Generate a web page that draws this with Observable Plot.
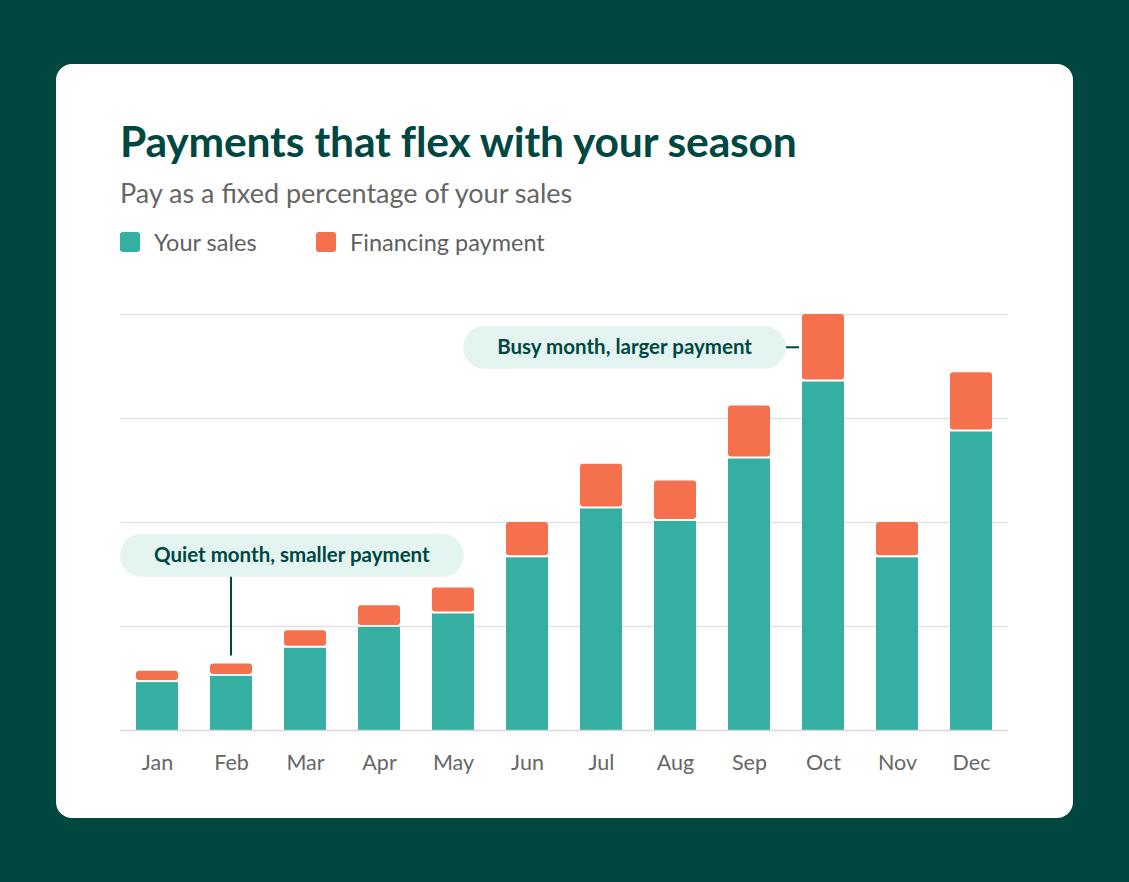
<!DOCTYPE html>
<html>
<head>
<meta charset="utf-8">
<script src="https://cdn.jsdelivr.net/npm/d3@7"></script>
<script src="https://cdn.jsdelivr.net/npm/@observablehq/plot@0.6"></script>
<style>
  html, body { margin: 0; padding: 0; }
  body { width: 1129px; height: 882px; background: #00473f; position: relative; overflow: hidden; font-family: Lato, "Open Sans", sans-serif; }
  #card { position: absolute; left: 56px; top: 64px; width: 1017px; height: 754px; background: #fff; border-radius: 16px; }
  .t { position: absolute; white-space: nowrap; line-height: 1; }
  #title { left: 64px; top: 56px; font-size: 42.6px; font-weight: 700; color: #004741; letter-spacing: -0.2px; }
  #subtitle { left: 64px; top: 115px; font-size: 27px; color: #666; }
  .legend { position: absolute; top: 164px; display: flex; align-items: center; font-size: 23.5px; color: #5f5f5f; height: 28px; }
  .sw { width: 20px; height: 20px; border-radius: 3px; margin-right: 14px; }
  #chart { position: absolute; left: 0; top: 226px; }
</style>
</head>
<body>
<div id="card">
  <div id="title" class="t">Payments that flex with your season</div>
  <div id="subtitle" class="t">Pay as a fixed percentage of your sales</div>
  <div class="legend" style="left:64px"><div class="sw" style="background:#34afa2"></div>Your sales</div>
  <div class="legend" style="left:260px"><div class="sw" style="background:#f5714e"></div>Financing payment</div>
  <div id="chart"></div>
</div>
<script>
const months = ["Jan","Feb","Mar","Apr","May","Jun","Jul","Aug","Sep","Oct","Nov","Dec"];
const sales = [47, 53, 80, 100, 113, 167, 214, 202, 262, 336, 167, 288];
const payment = [10, 11, 16, 20, 24, 33, 42, 38, 50, 64, 33, 56];
const yTicks = [0, 100, 200, 300, 400];
const annotations = [
  {month: "Feb", text: "Quiet month, smaller payment", y: 168},
  {month: "Oct", text: "Busy month, larger payment", y: 368}
];

const table = months.map((m, i) => ({month: m, sales: sales[i], payment: payment[i], total: sales[i] + payment[i]}));

const W = 1017, H = 500, ML = 64, MR = 65, MT = 24, MB = 60;
const plot = Plot.plot({
  width: W, height: H,
  marginLeft: ML, marginRight: MR, marginTop: MT, marginBottom: MB,
  style: {fontFamily: "Lato, 'Open Sans', sans-serif", background: "transparent", overflow: "visible"},
  x: {type: "band", domain: months, paddingInner: 0.43, paddingOuter: 0.215, label: null},
  y: {domain: [0, 400], axis: null},
  marks: [
    Plot.ruleY(yTicks.slice(1), {stroke: "#e2e2e2", strokeWidth: 1.5}),
    Plot.barY(table, {x: "month", y1: 0, y2: "sales", fill: "#34afa2", insetTop: 1}),
    Plot.barY(table, {x: "month", y1: "sales", y2: "total", fill: "#f5714e", insetBottom: 1, rx: 3}),
    Plot.ruleY([0], {stroke: "#d8d8d8", strokeWidth: 1.5}),
    Plot.axisX({tickSize: 0, tickPadding: 24, fontSize: 21.5, fill: "#666", label: null})
  ]
});
document.getElementById("chart").appendChild(plot);

const xs = plot.scale("x"), ys = plot.scale("y");
const svg = d3.select(plot);
const g = svg.append("g");
const pillH = 43, padX = 34, teal = "#004741";
annotations.forEach(a => {
  const row = table.find(d => d.month === a.month);
  const cy = ys.apply(a.y);
  const bx = xs.apply(a.month), bw = xs.bandwidth;
  const ag = g.append("g");
  const rect = ag.append("rect").attr("fill", "#e4f4f1").attr("rx", pillH / 2).attr("ry", pillH / 2)
    .attr("y", cy - pillH / 2).attr("height", pillH);
  const txt = ag.append("text").text(a.text).attr("font-size", 20.5).attr("font-weight", 700)
    .attr("fill", teal).attr("text-anchor", "middle").attr("dy", "0.35em").attr("y", cy);
  const tw = txt.node().getComputedTextLength();
  const w = tw + 2 * padX;
  let left;
  if (a.month === "Feb") {
    left = ML;
    g.append("line").attr("x1", bx + bw / 2).attr("x2", bx + bw / 2)
      .attr("y1", cy + pillH / 2).attr("y2", ys.apply(row.total) - 8)
      .attr("stroke", teal).attr("stroke-width", 2);
  } else {
    left = bx - 16 - w;
    g.append("line").attr("x1", bx - 16).attr("x2", bx - 3)
      .attr("y1", cy).attr("y2", cy).attr("stroke", teal).attr("stroke-width", 2);
  }
  rect.attr("x", left).attr("width", w);
  txt.attr("x", left + w / 2);
});
</script>
</body>
</html>
